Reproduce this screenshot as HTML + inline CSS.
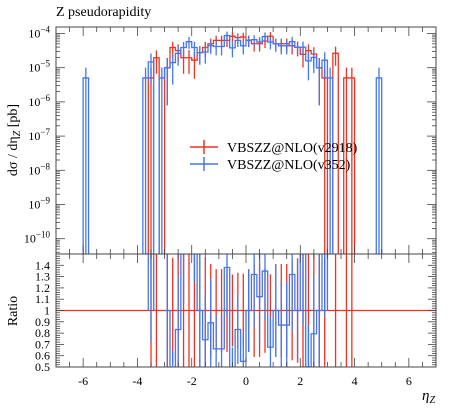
<!DOCTYPE html>
<html><head><meta charset="utf-8"><style>
body{margin:0;background:#fff;}
svg text{font-family:"Liberation Serif","DejaVu Serif",serif;}
</style></head><body>
<svg id="c" width="450" height="406" viewBox="0 0 450 406" xmlns="http://www.w3.org/2000/svg">
<text x="56" y="16" font-size="14">Z pseudorapidity</text>
<g id="plot"></g>
<text transform="translate(17,140) rotate(-90)" text-anchor="middle" font-size="14">dσ / dη<tspan font-style="italic" font-size="10" dy="3">Z</tspan><tspan dy="-3"> [pb]</tspan></text>
<text transform="translate(17,311) rotate(-90)" text-anchor="middle" font-size="14">Ratio</text>
<text x="422" y="400" font-size="15" font-style="italic">η<tspan font-size="10" dy="3">Z</tspan></text>
<g>
<g>
<line x1="190" y1="147" x2="218" y2="147" stroke="#ee3322" stroke-width="1.5"/>
<line x1="204" y1="140" x2="204" y2="154" stroke="#ee3322" stroke-width="1.5"/>
<text x="227" y="152" font-size="14">VBSZZ@NLO(v2918)</text></g>
<g>
<line x1="190" y1="164" x2="218" y2="164" stroke="#4477ee" stroke-width="1.5"/>
<line x1="204" y1="157" x2="204" y2="171" stroke="#4477ee" stroke-width="1.5"/>
<text x="227" y="169" font-size="14">VBSZZ@NLO(v352)</text></g>
</g>
</svg>
<script>
const binStarts=[-6.0,-3.8,-3.6,-3.4,-3.2,-3.0,-2.8,-2.6,-2.4,-2.2,-2.0,-1.8,-1.6,-1.4,-1.2,-1.0,-0.8,-0.6,-0.4,-0.2,0.0,0.2,0.4,0.6,0.8,1.0,1.2,1.4,1.6,1.8,2.0,2.2,2.4,2.6,2.8,3.0,3.2,3.4,3.6,3.8,4.8];
const redLog=[null,null,-5.3,-4.71,null,-5.0,-4.41,-4.5,-4.71,-4.71,-4.78,-4.56,-4.41,-4.3,-4.2,-4.2,-4.2,-4.08,-4.12,-4.1,-4.2,-4.3,-4.3,-4.22,-4.08,-4.3,-4.3,-4.3,-4.36,-4.4,-4.61,-4.5,-4.6,-5.0,-5.3,null,-4.58,null,-5.3,-5.3,null];
const blueLog=[-5.3,-5.3,-4.83,null,-5.3,-5.0,-4.85,-4.58,-4.41,-4.24,-4.41,-4.56,-4.54,-4.35,-4.38,-4.38,-4.06,-4.42,-4.2,-4.36,-4.2,-4.18,-4.25,-4.09,-4.25,-4.3,-4.36,-4.36,-4.24,-4.4,-4.4,-4.8,-4.7,-5.0,-4.78,-5.3,null,null,null,null,-5.3];
const xTicks=[-6,-4,-2,0,2,4,6];
const yDecades=[-4,-5,-6,-7,-8,-9,-10];
const rTicks=[0.5,0.6,0.7,0.8,0.9,1,1.1,1.2,1.3,1.4];
const BW=0.2;
const L=56,R=436,T=27,M=254,B=367;
const X=v=>L+(v+7)/14*(R-L);
const YL=lg=>33.5+(-4-lg)*34.2;
const YR=r=>M+(1.5-r)/1.0*(B-M);
const NS="http://www.w3.org/2000/svg";
const g=document.getElementById('plot');
function el(t,a,p){const e=document.createElementNS(NS,t);for(const k in a)e.setAttribute(k,a[k]);(p||g).appendChild(e);return e;}
const RED="#ee3322",BLUE="#4477ee";
const defs=el('defs',{});
const c1=el('clipPath',{id:'cm'},defs);el('rect',{x:L,y:T,width:R-L,height:M-T},c1);
const c2=el('clipPath',{id:'cr'},defs);el('rect',{x:L,y:M,width:R-L,height:B-M},c2);
const gm=el('g',{'clip-path':'url(#cm)'});


const gr=el('g',{'clip-path':'url(#cr)'});


function relErr(v){return Math.min(1,1.3*Math.pow(10,-(v+5.3)/2));}
const bottomLog=-10.6;
// build step path from values (in pixel y via fy), base y
function stepPath(vals,fy,base){
  let d='',prevEnd=null,prevY=null;
  vals.forEach((v,i)=>{
    if(v===null)return;
    const x0=X(binStarts[i]),x1=X(binStarts[i]+BW),y=fy(v,i);
    if(prevEnd!==null&&Math.abs(prevEnd-x0)<0.01){d+=`L${x0},${y}L${x1},${y}`;}
    else{if(prevEnd!==null)d+=`L${prevEnd},${base}`;d+=`M${x0},${base}L${x0},${y}L${x1},${y}`;}
    prevEnd=x1;prevY=y;
  });
  if(prevEnd!==null)d+=`L${prevEnd},${base}`;
  return d;
}
function drawMain(vals,col,name){
  const p=el('path',{d:stepPath(vals,v=>YL(v),YL(bottomLog)),fill:'none',stroke:col,'stroke-width':1.3},gm);
  
  
  vals.forEach((v,i)=>{if(v===null)return;
    const xc=X(binStarts[i]+BW/2);
    const e=relErr(v),up=Math.log10(Math.pow(10,v)*(1+e)),lo=e>=1?bottomLog:Math.log10(Math.pow(10,v)*(1-e));
    const l=el('line',{x1:xc,x2:xc,y1:YL(up),y2:YL(lo),stroke:col,'stroke-width':1.3},gm);
    
    
  });
}
drawMain(redLog,RED,'v2918');
drawMain(blueLog,BLUE,'v352');
const rl=el('line',{x1:L,x2:R,y1:YR(1),y2:YR(1),stroke:RED,'stroke-width':1.3},gr);


redLog.forEach((v,i)=>{if(v===null)return;
  const xc=X(binStarts[i]+BW/2),e=relErr(v);
  const l=el('line',{x1:xc,x2:xc,y1:YR(1+e),y2:YR(Math.max(0,1-e)),stroke:RED,'stroke-width':1.3},gr);
  
  
});
const ratioVals=blueLog.map((v,i)=>(v===null||redLog[i]===null)?null:Math.pow(10,v-redLog[i]));
const rp=el('path',{d:stepPath(ratioVals,r=>YR(Math.min(r,2)),YR(1)),fill:'none',stroke:BLUE,'stroke-width':1.3},gr);


ratioVals.forEach((r,i)=>{if(r===null)return;
  const xc=X(binStarts[i]+BW/2),e=relErr(blueLog[i])*r;
  const l=el('line',{x1:xc,x2:xc,y1:YR(r+e),y2:YR(Math.max(0,r-e)),stroke:BLUE,'stroke-width':1.3},gr);
  
  
});
[[T,M],[M,B]].forEach(([a,b],k)=>{const r=el('rect',{x:L,y:a,width:R-L,height:b-a,fill:'none',stroke:'#444','stroke-width':1});
  
  });
const tk={stroke:'#444','stroke-width':0.8};
for(let v=-7;v<=7.001;v+=0.5){const x=X(v),maj=Math.abs(v%2)<1e-6;const h=maj?9:5;
  [T,M].forEach(y=>{el('line',Object.assign({x1:x,x2:x,y1:y,y2:y+h},tk));});
  [M,B].forEach(y=>{el('line',Object.assign({x1:x,x2:x,y1:y,y2:y-h},tk));});}
xTicks.forEach(v=>{const t=el('text',{x:X(v),y:385,'text-anchor':'middle','font-size':12});t.textContent=v;
  
  });
for(let d=-11;d<=-4;d++){for(let m=1;m<10;m++){const lg=d+Math.log10(m);const y=YL(lg);if(y<T||y>M)continue;const h=m===1?9:4;
  el('line',Object.assign({x1:L,x2:L+h,y1:y,y2:y},tk));el('line',Object.assign({x1:R,x2:R-h,y1:y,y2:y},tk));}}
yDecades.forEach(d=>{const t=el('text',{x:50,y:YL(d)+4,'text-anchor':'end','font-size':12});
  t.textContent='10';const s=el('tspan',{dy:-5,'font-size':9},t);s.textContent='\u2212'+(-d);
  
  });
for(let r=0.5;r<=1.5001;r+=0.02){const y=YR(r);const maj=Math.abs(r*10-Math.round(r*10))<1e-6;const h=maj?8:4;
  el('line',Object.assign({x1:L,x2:L+h,y1:y,y2:y},tk));el('line',Object.assign({x1:R,x2:R-h,y1:y,y2:y},tk));}
rTicks.forEach(r=>{const t=el('text',{x:50,y:YR(r)+4,'text-anchor':'end','font-size':12});t.textContent=r;
  
  });
</script>
</body></html>
